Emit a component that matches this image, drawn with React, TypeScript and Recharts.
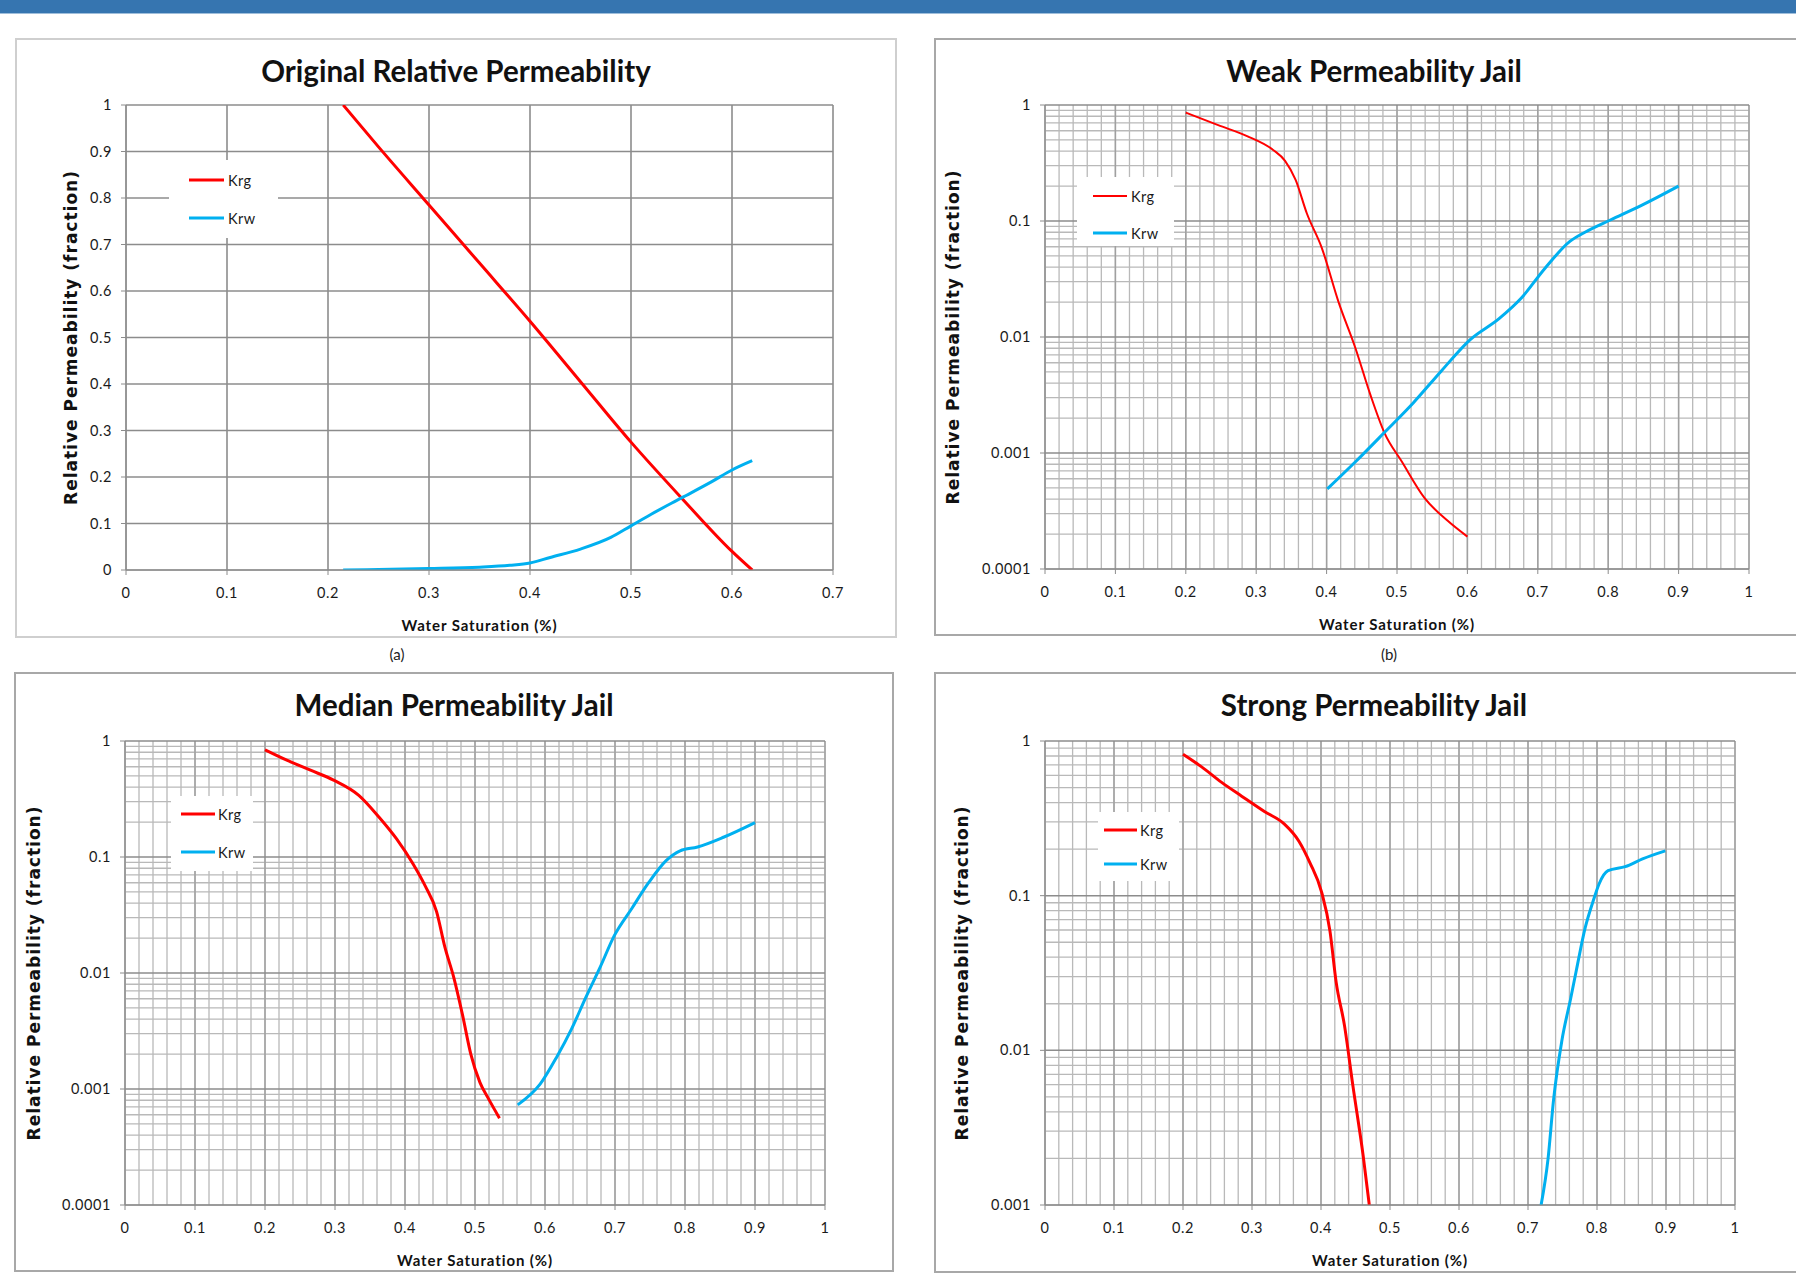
import { LineChart, Line, XAxis, YAxis, CartesianGrid, Legend } from "recharts";

// (a) Original relative permeability, linear axes
const origSwKrg = [0.215, 0.25, 0.3, 0.35, 0.4, 0.45, 0.5, 0.55, 0.6, 0.62];
const origKrg = [1.0, 0.91, 0.785, 0.66, 0.535, 0.405, 0.275, 0.155, 0.04, 0.0];
const origSwKrw = [0.215, 0.25, 0.3, 0.35, 0.38, 0.4, 0.42, 0.45, 0.48, 0.5, 0.52, 0.55, 0.58, 0.6, 0.62];
const origKrw = [0.0, 0.001, 0.003, 0.006, 0.01, 0.015, 0.027, 0.045, 0.07, 0.095, 0.12, 0.155, 0.19, 0.215, 0.235];

// (b) Weak permeability jail
const weakSwKrg = [0.2, 0.246, 0.287, 0.324, 0.341, 0.356, 0.372, 0.393, 0.417, 0.441, 0.462, 0.482, 0.507, 0.539, 0.572, 0.6];
const weakKrg = [0.86, 0.67, 0.54, 0.41, 0.33, 0.226, 0.116, 0.059, 0.02, 0.008, 0.0032, 0.0015, 0.00084, 0.00041, 0.00026, 0.00019];
const weakSwKrw = [0.401, 0.441, 0.482, 0.523, 0.563, 0.604, 0.645, 0.677, 0.71, 0.746, 0.767, 0.803, 0.848, 0.9];
const weakKrw = [0.00049, 0.00084, 0.0015, 0.0027, 0.0051, 0.0095, 0.0144, 0.0218, 0.039, 0.067, 0.08, 0.102, 0.137, 0.2];

// (c) Median permeability jail
const medSwKrg = [0.2, 0.232, 0.265, 0.298, 0.334, 0.363, 0.388, 0.412, 0.429, 0.445, 0.457, 0.47, 0.482, 0.494, 0.507, 0.519, 0.535];
const medKrg = [0.84, 0.68, 0.56, 0.46, 0.34, 0.22, 0.143, 0.086, 0.056, 0.034, 0.0167, 0.009, 0.0044, 0.002, 0.00114, 0.00083, 0.00056];
const medSwKrw = [0.561, 0.593, 0.617, 0.638, 0.658, 0.679, 0.699, 0.724, 0.748, 0.773, 0.793, 0.818, 0.855, 0.9];
const medKrw = [0.00073, 0.0011, 0.0019, 0.0033, 0.0061, 0.0113, 0.021, 0.036, 0.06, 0.093, 0.113, 0.122, 0.148, 0.198];

// (d) Strong permeability jail
const strongSwKrg = [0.2, 0.227, 0.256, 0.285, 0.318, 0.347, 0.368, 0.384, 0.401, 0.413, 0.422, 0.434, 0.446, 0.461, 0.47];
const strongKrg = [0.82, 0.68, 0.54, 0.44, 0.35, 0.29, 0.225, 0.163, 0.105, 0.059, 0.0275, 0.0145, 0.006, 0.0021, 0.001];
const strongSwKrw = [0.719, 0.729, 0.737, 0.749, 0.762, 0.77, 0.783, 0.795, 0.803, 0.816, 0.841, 0.866, 0.899];
const strongKrw = [0.001, 0.00198, 0.00476, 0.0115, 0.0218, 0.0328, 0.0623, 0.094, 0.119, 0.145, 0.154, 0.173, 0.195];

// tick labels
const xTicks07 = [0, 0.1, 0.2, 0.3, 0.4, 0.5, 0.6, 0.7];
const xTicks10 = [0, 0.1, 0.2, 0.3, 0.4, 0.5, 0.6, 0.7, 0.8, 0.9, 1];
const yTicksLin = [0, 0.1, 0.2, 0.3, 0.4, 0.5, 0.6, 0.7, 0.8, 0.9, 1];
const yTicksLog4 = [0.0001, 0.001, 0.01, 0.1, 1];
const yTicksLog3 = [0.001, 0.01, 0.1, 1];

const RED = "#ff0000";
const BLUE = "#00b0f0";
const TICK_FONT = "Lato, sans-serif";

const toPoints = (sw: number[], kr: number[]) => sw.map((s, i) => ({ sw: s, kr: kr[i] }));

// minor grid lines for the log panels
const xMinor = Array.from({ length: 51 }, (_, i) => +(i * 0.02).toFixed(2));
const logMinor = (decades: number[]) =>
  decades.slice(0, -1).flatMap((d) => [2, 3, 4, 5, 6, 7, 8, 9].map((k) => +(d * k).toPrecision(3)));

type Box = { x: number; y: number; w: number; h: number };
type Plot = { left: number; top: number; right: number; bottom: number };
type LegendSpec = { x: number; y: number; w: number; h: number; x0: number; x1: number; tx: number; rows: number[] };

interface PanelProps {
  title: string;
  box: Box;
  plot: Plot;
  border: string;
  log: boolean;
  xTicks: number[];
  yTicks: number[];
  krg: { sw: number; kr: number }[];
  krw: { sw: number; kr: number }[];
  legend: LegendSpec;
  yLabelX: number;
  krgWidth: number;
}

const Panel = ({ title, box, plot, border, log, xTicks, yTicks, krg, krw, legend, yLabelX, krgWidth }: PanelProps) => {
  const margin = { top: plot.top - box.y, right: box.x + box.w - plot.right, left: 0, bottom: 0 };
  const yAxisWidth = plot.left - box.x;
  const xAxisHeight = box.y + box.h - plot.bottom;
  const xMax = xTicks[xTicks.length - 1];
  const yMin = yTicks[0];
  const tickStyle = { fill: "#1a1a1a", fontSize: 14.5, fontFamily: TICK_FONT, letterSpacing: 0.6 };

  return (
    <div style={{ position: "absolute", left: box.x, top: box.y, width: box.w, height: box.h, background: "#fff" }}>
      <LineChart width={box.w} height={box.h} margin={margin}>
        {log && (
          <CartesianGrid
            stroke="#b9b9b9"
            strokeWidth={1.3}
            verticalValues={xMinor}
            horizontalValues={logMinor(yTicks)}
          />
        )}
        <CartesianGrid
          stroke={log ? "#a0a0a0" : "#8c8c8c"}
          strokeWidth={log ? 1.5 : 1.6}
          horizontal={false}
          verticalValues={xTicks}
        />
        <CartesianGrid
          stroke="#8c8c8c"
          strokeWidth={log ? 1.5 : 1.6}
          vertical={false}
          horizontalValues={yTicks}
        />
        <XAxis
          type="number"
          dataKey="sw"
          domain={[0, xMax]}
          ticks={xTicks}
          interval={0}
          allowDataOverflow
          height={xAxisHeight}
          tickSize={5}
          tickMargin={13}
          stroke="#8c8c8c"
          tick={tickStyle}
          label={{
            value: "Water Saturation (%)",
            position: "insideBottom",
            offset: xAxisHeight - 61,
            style: { fontFamily: TICK_FONT, fontWeight: 700, fontSize: 15, letterSpacing: 0.9, fill: "#111" },
          }}
        />
        <YAxis
          type="number"
          dataKey="kr"
          scale={log ? "log" : "linear"}
          domain={[yMin, 1]}
          ticks={yTicks}
          interval={0}
          allowDataOverflow
          width={yAxisWidth}
          tickSize={5}
          tickMargin={9}
          stroke="#8c8c8c"
          tickFormatter={(v: number) => String(v)}
          tick={tickStyle}
          label={{
            value: "Relative Permeability (fraction)",
            angle: -90,
            position: "insideLeft",
            offset: yLabelX,
            textAnchor: "middle",
            style: {
              textAnchor: "middle",
              fontFamily: "DejaVu Sans, sans-serif",
              fontWeight: 700,
              fontSize: 17,
              letterSpacing: 1,
              fill: "#111",
            },
          }}
        />
        <Legend
          layout="vertical"
          align="center"
          verticalAlign="middle"
          wrapperStyle={{ left: legend.x, top: legend.y, width: legend.w, height: legend.h, background: "#fff" }}
          content={(p: any) => (
            <svg width={legend.w} height={legend.h}>
              {(p.payload || []).map((e: any, i: number) => (
                <g key={e.value}>
                  <line
                    x1={legend.x0}
                    x2={legend.x1}
                    y1={legend.rows[i]}
                    y2={legend.rows[i]}
                    stroke={e.color}
                    strokeWidth={i === 0 ? krgWidth : 3}
                  />
                  <text
                    x={legend.tx}
                    y={legend.rows[i]}
                    dominantBaseline="central"
                    fontFamily={TICK_FONT}
                    fontSize={14.5}
                    letterSpacing={0.4}
                    fill="#1a1a1a"
                  >
                    {e.value}
                  </text>
                </g>
              ))}
            </svg>
          )}
        />
        <Line
          data={krg}
          dataKey="kr"
          name="Krg"
          type="monotone"
          stroke={RED}
          strokeWidth={krgWidth}
          dot={false}
          isAnimationActive={false}
        />
        <Line
          data={krw}
          dataKey="kr"
          name="Krw"
          type="monotone"
          stroke={BLUE}
          strokeWidth={3}
          dot={false}
          isAnimationActive={false}
        />
      </LineChart>
      <div
        style={{
          position: "absolute",
          left: 0,
          top: 33 - 17,
          width: box.w,
          height: 34,
          lineHeight: "34px",
          textAlign: "center",
          fontFamily: TICK_FONT,
          fontWeight: 700,
          fontSize: 29.5,
          color: "#111",
        }}
      >
        {title}
      </div>
      <div style={{ position: "absolute", inset: 0, border: `2px solid ${border}`, pointerEvents: "none" }} />
    </div>
  );
};

const App = () => (
  <div
    style={{
      position: "absolute",
      left: 0,
      top: 0,
      width: 1796,
      height: 1276,
      overflow: "hidden",
      background: "#fff",
    }}
  >
    <div style={{ position: "absolute", left: 0, top: 0, width: 1796, height: 13, background: "#3675b0", borderBottom: "1px solid #9fbedb" }} />
    <Panel
      title="Original Relative Permeability"
      box={{ x: 15, y: 38, w: 882, h: 600 }}
      plot={{ left: 126, top: 105, right: 833, bottom: 570 }}
      border="#cfcfcf"
      log={false}
      xTicks={xTicks07}
      yTicks={yTicksLin}
      krg={toPoints(origSwKrg, origKrg)}
      krw={toPoints(origSwKrw, origKrw)}
      legend={{ x: 154, y: 122, w: 109, h: 78, x0: 20, x1: 55, tx: 59, rows: [20, 58] }}
      yLabelX={56}
      krgWidth={3}
    />
    <Panel
      title="Weak Permeability Jail"
      box={{ x: 934, y: 38, w: 880, h: 598 }}
      plot={{ left: 1045, top: 105, right: 1749, bottom: 569 }}
      border="#a8a8a8"
      log
      xTicks={xTicks10}
      yTicks={yTicksLog4}
      krg={toPoints(weakSwKrg, weakKrg)}
      krw={toPoints(weakSwKrw, weakKrw)}
      legend={{ x: 143, y: 139, w: 97, h: 69, x0: 16, x1: 50, tx: 54, rows: [19, 56] }}
      yLabelX={19}
      krgWidth={2}
    />
    <Panel
      title="Median Permeability Jail"
      box={{ x: 14, y: 672, w: 880, h: 600 }}
      plot={{ left: 125, top: 741, right: 825, bottom: 1205 }}
      border="#a8a8a8"
      log
      xTicks={xTicks10}
      yTicks={yTicksLog4}
      krg={toPoints(medSwKrg, medKrg)}
      krw={toPoints(medSwKrw, medKrw)}
      legend={{ x: 157, y: 124, w: 82, h: 75, x0: 10, x1: 44, tx: 47, rows: [18, 56] }}
      yLabelX={20}
      krgWidth={3}
    />
    <Panel
      title="Strong Permeability Jail"
      box={{ x: 934, y: 672, w: 880, h: 601 }}
      plot={{ left: 1045, top: 741, right: 1735, bottom: 1205 }}
      border="#a8a8a8"
      log
      xTicks={xTicks10}
      yTicks={yTicksLog3}
      krg={toPoints(strongSwKrg, strongKrg)}
      krw={toPoints(strongSwKrw, strongKrw)}
      legend={{ x: 164, y: 140, w: 81, h: 69, x0: 6, x1: 39, tx: 42, rows: [18, 52] }}
      yLabelX={28}
      krgWidth={3}
    />
    <div style={{ position: "absolute", left: 382, top: 645, width: 30, textAlign: "center", fontFamily: TICK_FONT, fontSize: 15, color: "#222" }}>
      (a)
    </div>
    <div style={{ position: "absolute", left: 1374, top: 645, width: 30, textAlign: "center", fontFamily: TICK_FONT, fontSize: 15, color: "#222" }}>
      (b)
    </div>
  </div>
);

export default App;
